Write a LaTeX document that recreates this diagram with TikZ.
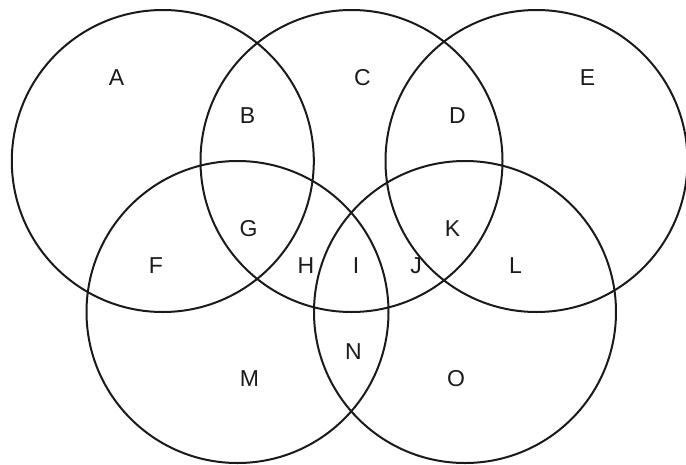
\documentclass[tikz,border=0pt]{standalone}
\usepackage{fontspec}
\setmainfont{Liberation Sans}
\usepackage{xcolor}
\usepackage{tikz}
\definecolor{ringInk}{HTML}{1A1A1A}

\begin{document}
\begin{tikzpicture}[
    x=1pt, y=-1pt,
    ring/.style={draw=ringInk, line width=2pt, circle, minimum size=302pt,
                 inner sep=0pt},
    zone/.style={font=\fontsize{23}{23}\selectfont, text=ringInk, inner sep=0pt}]

    \useasboundingbox (0,0) rectangle (686,464);

    % the five rings
    \node[ring] (ringTL) at (162.8,161) {};
    \node[ring] (ringTM) at (351.5,161) {};
    \node[ring] (ringTR) at (536.5,161) {};
    \node[ring] (ringBL) at (237.5,312) {};
    \node[ring] (ringBR) at (465,312) {};

    % region letters
    \node[zone] (zoneA) at (116.5,78) {A};
    \node[zone] (zoneB) at (247.5,116) {B};
    \node[zone] (zoneC) at (362.5,78) {C};
    \node[zone] (zoneD) at (457.5,116) {D};
    \node[zone] (zoneE) at (587.5,78) {E};
    \node[zone] (zoneF) at (156,266) {F};
    \node[zone] (zoneG) at (248.5,229) {G};
    \node[zone] (zoneH) at (306,266) {H};
    \node[zone] (zoneI) at (356,266) {I};
    \node[zone] (zoneJ) at (416,266) {J};
    \node[zone] (zoneK) at (452.5,229) {K};
    \node[zone] (zoneL) at (515.5,266) {L};
    \node[zone] (zoneM) at (249.5,379) {M};
    \node[zone] (zoneN) at (353.5,351.5) {N};
    \node[zone] (zoneO) at (456,379) {O};
\end{tikzpicture}
\end{document}
